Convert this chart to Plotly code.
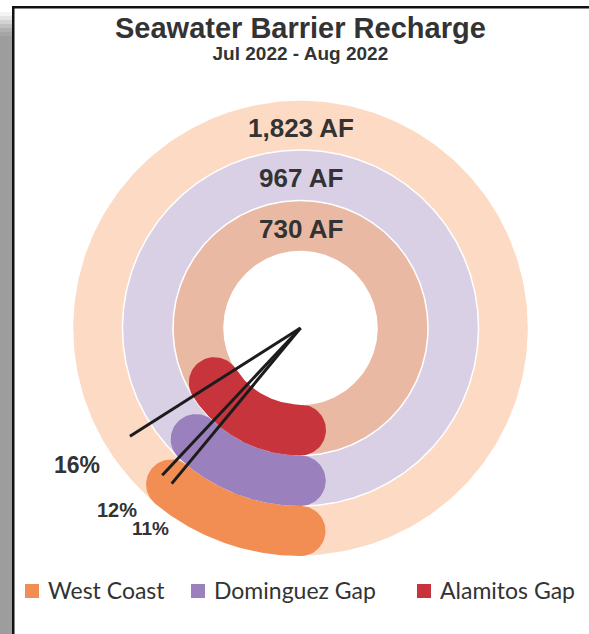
import numpy as np
import plotly.graph_objects as go

# ---- data -------------------------------------------------------------
sites = ["West Coast", "Dominguez Gap", "Alamitos Gap"]
totals_af = [1823, 967, 730]          # recharge volume per barrier (acre-feet)
shares_pct = [11, 12, 16]             # share shown as the highlighted arc

# ---- styling ----------------------------------------------------------
arc_colors = ["#F28D54", "#9A80BD", "#C8343B"]
ring_colors = ["#FCDAC3", "#D9D0E6", "#E9B9A3"]
ring_inner = [178.0, 127.5, 76.5]     # px, one ring per site (outer -> inner)
ring_outer = [228.0, 178.0, 127.5]
leader_r = 202.0
pct_label_pos = [(250, 233.2), (258.5, 224.8), (262, 211.5)]  # (radius, degrees)
pct_font = [19, 20, 23]
legend_sq_left = [25, 191, 417]

W, H = 589, 634
CX, CY = 300.5, 328.0                 # ring centre, page pixels from top-left
TXT = "#333333"
BOLD = "Liberation Sans, Arial, sans-serif"
LEG = "Lato, sans-serif"
START_DEG = 270.0                     # arcs start at six o'clock, run clockwise


def py(y_px):
    return CY - y_px


def px_x(x_px):
    return x_px - CX


fig = go.Figure()

# background rings drawn as stacked discs, largest first
t = np.linspace(0, 2 * np.pi, 361)
for r, col in [(ring_outer[0], ring_colors[0]), (ring_outer[1], ring_colors[1]),
               (ring_outer[2], ring_colors[2]), (ring_inner[2], "#FFFFFF")]:
    fig.add_trace(go.Scatter(x=r * np.cos(t), y=r * np.sin(t), mode="lines",
                             fill="toself", fillcolor=col,
                             line=dict(color="#FFFFFF", width=1.5),
                             hoverinfo="skip", showlegend=False))


def rounded_arc(r0, r1, pct):
    """Polygon of an annular arc with semicircular end caps."""
    th0 = np.radians(START_DEG)
    th1 = np.radians(START_DEG - pct / 100.0 * 360.0)
    rm, h = (r0 + r1) / 2.0, (r1 - r0) / 2.0
    ths = np.linspace(th0, th1, 120)
    xs = list(r1 * np.cos(ths))
    ys = list(r1 * np.sin(ths))
    # cap at the far end
    u = np.array([np.cos(th1), np.sin(th1)])
    tv = np.array([np.sin(th1), -np.cos(th1)])
    c = rm * u
    for ph in np.linspace(0, np.pi, 40):
        p = c + h * (np.cos(ph) * u + np.sin(ph) * tv)
        xs.append(p[0]); ys.append(p[1])
    xs += list(r0 * np.cos(ths[::-1]))
    ys += list(r0 * np.sin(ths[::-1]))
    # cap at the start
    u = np.array([np.cos(th0), np.sin(th0)])
    tv = np.array([-np.sin(th0), np.cos(th0)])
    c = rm * u
    for ph in np.linspace(0, np.pi, 40):
        p = c + h * (-np.cos(ph) * u + np.sin(ph) * tv)
        xs.append(p[0]); ys.append(p[1])
    return xs, ys, th1


ends = []
for i, site in enumerate(sites):
    xs, ys, th_end = rounded_arc(ring_inner[i], ring_outer[i], shares_pct[i])
    ends.append(th_end)
    fig.add_trace(go.Scatter(x=xs, y=ys, mode="lines", fill="toself",
                             fillcolor=arc_colors[i], line=dict(width=0, color=arc_colors[i]),
                             name=site, hoverinfo="skip", showlegend=False))

# leader lines from the centre to each arc end
for i in range(len(sites)):
    fig.add_trace(go.Scatter(x=[0, leader_r * np.cos(ends[i])],
                             y=[0, leader_r * np.sin(ends[i])],
                             mode="lines", line=dict(color="#1C1C1C", width=3),
                             hoverinfo="skip", showlegend=False))

ann = []
# volume labels at the top of each ring
for i in range(len(sites)):
    rm = (ring_inner[i] + ring_outer[i]) / 2.0
    ann.append(dict(x=0, y=rm - 3, text=f"{totals_af[i]:,} AF", showarrow=False,
                    xanchor="center", yanchor="middle",
                    font=dict(family=BOLD, size=26, color=TXT, weight="bold")))
# percentage labels
for i in range(len(sites)):
    r, deg = pct_label_pos[i]
    a = np.radians(deg)
    ann.append(dict(x=r * np.cos(a), y=r * np.sin(a), text=f"{shares_pct[i]}%",
                    showarrow=False, xanchor="center", yanchor="middle",
                    font=dict(family=BOLD, size=pct_font[i], color=TXT, weight="bold")))
# title block (two lines in one annotation)
ann.append(dict(x=0, y=py(10), showarrow=False, xanchor="center", yanchor="top",
                text=("<span style='font-size:29px'><b>Seawater Barrier Recharge</b></span><br>"
                      "<span style='font-size:19px'><b>Jul 2022 - Aug 2022</b></span>"),
                font=dict(family=BOLD, size=17, color=TXT)))

shapes = []
# legend
for i, site in enumerate(sites):
    x0 = legend_sq_left[i]
    shapes.append(dict(type="rect", xref="x", yref="y", x0=px_x(x0), x1=px_x(x0 + 14),
                       y0=py(584), y1=py(598), fillcolor=arc_colors[i], line=dict(width=0)))
    ann.append(dict(x=px_x(x0 + 21), y=py(590), text=site, showarrow=False,
                    xanchor="left", yanchor="middle",
                    font=dict(family=LEG, size=23, color=TXT)))

# page frame: grey strip and dark rules on the left and top
def pr(x0, x1, y0, y1, col):
    shapes.append(dict(type="rect", xref="paper", yref="paper", x0=x0 / W, x1=x1 / W,
                       y0=1 - y1 / H, y1=1 - y0 / H, fillcolor=col, line=dict(width=0),
                       layer="above"))

pr(0, 12, 36, H, "#9D9D9D")
for k, g in enumerate(["#F4F4F4", "#E4E4E4", "#D2D2D2", "#C0C0C0", "#B0B0B0", "#A5A5A5"]):
    pr(0, 12, 12 + 4 * k, 16 + 4 * k, g)
pr(12, 14.5, 6, H, "#111111")
pr(12, W, 6, 8.5, "#111111")

fig.update_layout(
    width=W, height=H, margin=dict(l=0, r=0, t=0, b=0),
    paper_bgcolor="#FFFFFF", plot_bgcolor="#FFFFFF",
    xaxis=dict(range=[-CX, W - CX], visible=False, fixedrange=True),
    yaxis=dict(range=[CY - H, CY], visible=False, fixedrange=True),
    annotations=ann, shapes=shapes, showlegend=False,
)

fig.write_html("out.html")
